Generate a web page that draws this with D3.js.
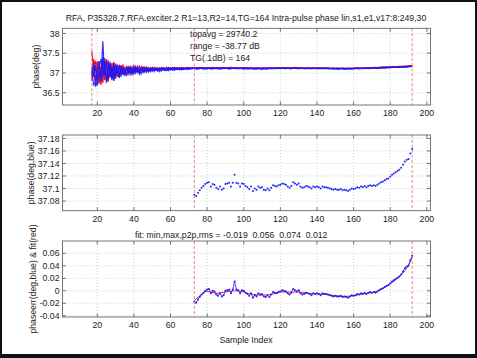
<!DOCTYPE html>
<html>
<head>
<meta charset="utf-8">
<title>Intra-pulse phase</title>
<script src="https://d3js.org/d3.v7.min.js"></script>
<style>
    body { margin: 0; background: #fff; }
    svg { display: block; font-family: "Liberation Sans", Arial, sans-serif; }
    .tick-label { font-size: 8.7px; fill: #222; }
</style>
</head>
<body>
<script>
// ---- data ----
const titleText = "RFA, P35328.7.RFA.exciter.2 R1=13,R2=14,TG=164 Intra-pulse phase lin,s1,e1,v17:8:249,30";
const notes = ["topavg = 29740.2", "range = -38.77 dB", "TG(.1dB) = 164"];
const fitTitle = "fit: min,max,p2p,rms = -0.019  0.056  0.074  0.012";
const xTicks = [20, 40, 60, 80, 100, 120, 140, 160, 180, 200];
const topTicks = [36.5, 37, 37.5, 38];
const midTicks = [37.08, 37.1, 37.12, 37.14, 37.16, 37.18];
const botTicks = [-0.04, -0.02, 0, 0.02, 0.04, 0.06];
const markers = [17, 73, 192];   // red dashed sample markers

// top panel traces: samples 17..192, hundredths of a degree above 37
const traceStart = 17;
const blueTraces = [
  [5,-30,-25,10,30,-15,40,20,-20,25,-10,15,-20,20,5,-12,18,-5,10,-8,
   14,-4,12,0,16,2,10,-2,14,4,12,3,13,5,11,6,12,4,13,7,
   11,6,12,8,13,7,12,9,13,8,12,10,13,9,12,11,13,10,12,11,
   13,11,12,10,13,11,12,11,13,10,12,12,11,13,12,11,13,12,11,12,
   12,11,12,13,11,12,11,12,10,12,11,12,11,10,12,11,12,11,12,12,
   11,12,12,13,12,12,11,12,11,12,13,12,12,11,12,11,12,12,11,12,
   12,11,12,12,11,12,11,12,12,11,11,12,11,11,12,11,11,12,11,11,
   11,12,11,12,12,11,12,12,11,12,12,13,12,12,13,12,13,13,13,13,
   14,13,14,14,14,15,14,15,15,15,16,15,16,16,17,17],
  [-10,25,-35,-20,15,35,-10,30,-25,10,28,-18,12,-15,22,-8,15,0,-6,16,
   0,12,-3,15,1,13,-1,12,3,14,2,11,5,13,4,12,6,13,5,12,
   7,13,6,12,8,14,8,11,9,13,9,12,10,13,10,12,11,13,10,12,
   11,12,10,12,11,13,10,12,11,12,10,11,12,11,12,10,11,12,11,12,
   11,12,11,11,12,10,11,12,11,11,10,11,12,11,10,11,11,12,11,11,
   12,11,12,11,12,11,12,12,11,11,12,12,11,12,11,12,11,11,12,11,
   11,12,11,11,12,11,12,11,11,12,11,11,10,11,11,10,11,11,10,11,
   11,11,10,11,11,12,11,11,12,11,12,12,11,12,12,12,13,12,13,13,
   13,14,13,14,14,14,15,14,15,15,15,16,15,16,16,17],
  [15,-10,20,-32,5,-22,80,-5,35,-18,20,-12,25,-5,8,18,-10,14,-2,12,
   4,16,-2,10,6,15,-3,11,2,13,6,10,3,12,7,11,5,10,8,13,
   6,11,9,12,7,11,10,13,8,12,10,11,9,12,11,13,11,12,10,13,
   12,10,12,11,12,10,13,11,12,11,12,11,13,12,11,12,11,13,12,11,
   11,12,12,10,11,12,11,11,12,10,11,12,10,11,12,11,10,12,11,12,
   12,12,11,12,12,13,11,12,12,11,12,13,12,11,12,12,11,12,11,12,
   11,12,11,12,11,11,12,11,12,11,11,11,12,11,10,11,11,11,10,11,
   10,11,11,11,12,11,11,12,12,11,12,11,12,13,12,12,12,13,13,14,
   13,14,14,13,15,14,15,15,14,16,15,16,16,17,16,17]
];
const redTraces = [
  [55,10,-20,30,-28,18,-12,38,5,-22,22,-15,28,-8,15,-12,20,2,14,-6,
   18,2,15,-2,14,4,17,6,13,2,15,7,12,6,14,8,13,7,14,9,
   12,8,14,10,13,9,14,11,12,10,14,11,13,12,14,12,13,11,14,12,
   13,12,14,12,13,12,14,13,12,13,14,12,13,13,12,14,13,12,13,13,
   13,12,13,13,12,13,12,13,12,12,13,12,12,13,12,12,13,12,13,12,
   13,13,12,13,13,12,13,13,12,13,13,12,13,12,13,13,12,13,12,13,
   12,13,12,13,12,12,13,12,12,13,12,12,12,11,12,12,12,11,12,12,
   12,12,11,12,12,13,12,12,13,12,13,13,12,13,13,13,14,13,14,14,
   14,15,14,15,15,15,16,15,16,16,17,16,17,17,18,18],
  [-20,35,15,-15,25,-30,30,-18,20,32,-12,25,-18,10,-10,20,-2,16,-4,18,
   -2,14,1,18,0,12,5,16,3,12,9,14,4,11,8,14,6,12,9,13,
   8,14,9,12,11,14,9,13,11,14,10,13,12,14,11,13,12,14,12,13,
   12,14,12,13,13,12,14,12,13,12,13,14,12,13,12,13,14,13,12,13,
   12,13,13,12,13,12,12,13,11,12,13,12,12,11,12,13,12,12,13,12,
   12,13,13,12,13,13,12,13,12,13,12,13,14,13,12,13,12,12,13,12,
   13,12,12,13,12,13,12,12,13,12,12,11,12,12,11,12,12,12,11,12,
   12,11,12,12,13,12,13,12,12,13,13,12,13,13,14,13,13,14,14,14,
   15,14,15,15,16,15,16,16,16,17,16,17,17,18,18,19],
  [8,-5,28,20,-22,12,-25,15,28,-10,15,22,-8,24,2,-5,12,20,0,8,
   15,6,10,14,3,16,2,10,15,5,11,13,6,14,9,10,12,7,12,10,
   13,9,11,13,10,12,13,10,12,13,11,12,14,12,13,11,13,12,13,14,
   12,13,13,12,14,13,12,13,13,12,13,12,14,12,13,13,12,13,12,14,
   13,12,12,13,12,13,13,12,12,13,12,12,12,13,12,11,12,13,12,12,
   13,12,13,13,12,13,12,13,13,12,13,14,13,12,12,13,12,13,12,12,
   12,13,12,12,13,12,12,13,12,12,12,12,11,12,12,11,12,12,12,11,
   12,12,12,11,12,12,13,12,13,12,13,13,13,12,13,14,13,14,14,15,
   14,15,15,15,16,15,16,16,17,16,17,17,17,18,18,18]
];

// middle and bottom panels: samples 73..192
const fitStart = 73;
const phaseBlue = [
  37.090,37.088,37.093,37.097,37.101,37.104,37.107,37.109,37.110,37.103,
  37.107,37.106,37.101,37.099,37.103,37.098,37.100,37.107,37.108,37.109,
  37.103,37.109,37.122,37.109,37.108,37.103,37.108,37.107,37.104,37.102,
  37.099,37.103,37.096,37.100,37.098,37.103,37.101,37.102,37.098,37.097,
  37.100,37.097,37.101,37.105,37.104,37.103,37.105,37.106,37.108,37.107,
  37.106,37.103,37.101,37.104,37.110,37.108,37.106,37.108,37.103,37.101,
  37.102,37.104,37.103,37.102,37.100,37.103,37.102,37.103,37.102,37.100,
  37.103,37.102,37.102,37.101,37.100,37.099,37.098,37.099,37.098,37.098,
  37.099,37.097,37.098,37.097,37.096,37.098,37.100,37.099,37.100,37.102,
  37.101,37.103,37.102,37.104,37.102,37.104,37.105,37.104,37.105,37.104,
  37.106,37.108,37.110,37.111,37.113,37.115,37.116,37.119,37.122,37.124,
  37.126,37.128,37.130,37.133,37.138,37.143,37.146,37.147,37.156,37.163
];
const phaseErr = [
  -0.017,-0.019,-0.014,-0.010,-0.006,-0.003,0.000,0.002,0.003,-0.004,
  0.000,-0.001,-0.006,-0.008,-0.004,-0.009,-0.007,0.000,0.001,0.002,
  -0.004,0.002,0.015,0.002,0.001,-0.004,0.001,0.000,-0.003,-0.005,
  -0.008,-0.004,-0.011,-0.007,-0.009,-0.004,-0.006,-0.005,-0.009,-0.010,
  -0.007,-0.010,-0.006,-0.002,-0.003,-0.004,-0.002,-0.001,0.001,0.000,
  -0.001,-0.004,-0.006,-0.003,0.003,0.001,-0.001,0.001,-0.004,-0.006,
  -0.005,-0.003,-0.004,-0.005,-0.007,-0.004,-0.005,-0.004,-0.005,-0.007,
  -0.004,-0.005,-0.005,-0.006,-0.007,-0.008,-0.009,-0.008,-0.009,-0.009,
  -0.008,-0.010,-0.009,-0.010,-0.011,-0.009,-0.007,-0.008,-0.007,-0.005,
  -0.006,-0.004,-0.005,-0.003,-0.005,-0.003,-0.002,-0.003,-0.002,-0.003,
  -0.001,0.001,0.003,0.004,0.006,0.008,0.009,0.012,0.015,0.017,
  0.019,0.021,0.023,0.026,0.031,0.036,0.039,0.040,0.049,0.056
];
const fitSamples = [73,76,80,85,90,95,100,105,110,115,120,125,130,135,140,145,150,155,160,165,170,175,180,185,190,192];
const fitValues = [-0.016,-0.008,-0.001,-0.004,-0.002,0.000,-0.002,-0.006,-0.007,-0.006,-0.002,-0.002,-0.002,-0.004,-0.005,-0.006,-0.008,-0.009,-0.008,-0.005,-0.003,0.002,0.011,0.023,0.041,0.054];

// ---- layout ----
const W = 477, H = 358;
const svg = d3.select("body").append("svg").attr("width", W).attr("height", H);

// dark frame around the figure
svg.append("rect").attr("width", W).attr("height", H).attr("fill", "#111");
svg.append("rect").attr("x", 2).attr("y", 2).attr("width", W - 4).attr("height", H - 6).attr("fill", "#fff");

const x = d3.scaleLinear().domain([1, 202]).range([62.5, 430.5]);

const panels = [
  { top: 28.3, bottom: 105, domain: [36.19, 38.13], ticks: topTicks, fmt: d => String(d), label: "phase(deg)", labelX: 36 },
  { top: 135, bottom: 210.7, domain: [37.0645, 37.1855], ticks: midTicks, fmt: d => String(+d.toFixed(2)), label: "phase(deg,blue)", labelX: 31 },
  { top: 241, bottom: 317, domain: [-0.042, 0.0797], ticks: botTicks, fmt: d => String(+d.toFixed(2)), label: "phaseerr(deg,blue) & fit(red)", labelX: 33 }
];

panels.forEach(p => {
  p.y = d3.scaleLinear().domain(p.domain).range([p.bottom, p.top]);
  const g = svg.append("g");
  p.g = g;
  g.append("rect").attr("x", x.range()[0]).attr("y", p.top)
    .attr("width", x.range()[1] - x.range()[0]).attr("height", p.bottom - p.top).attr("fill", "#fff");

  // dotted grid
  g.selectAll(".vg").data(xTicks).enter().append("line")
    .attr("x1", d => x(d)).attr("x2", d => x(d)).attr("y1", p.top).attr("y2", p.bottom)
    .attr("stroke", "#bdbdbd").attr("stroke-width", 0.7).attr("stroke-dasharray", "1,2");
  g.selectAll(".hg").data(p.ticks).enter().append("line")
    .attr("x1", x.range()[0]).attr("x2", x.range()[1]).attr("y1", d => p.y(d)).attr("y2", d => p.y(d))
    .attr("stroke", "#bdbdbd").attr("stroke-width", 0.7).attr("stroke-dasharray", "1,2");
});

// ---- top panel: overlaid pulses ----
const topP = panels[0];
const traceLine = d3.line().x((d, i) => x(traceStart + i)).y(d => topP.y(37 + d / 100));
redTraces.forEach(t => topP.g.append("path").attr("d", traceLine(t))
  .attr("fill", "none").attr("stroke", "#ff1010").attr("stroke-width", 1.2));
blueTraces.forEach(t => topP.g.append("path").attr("d", traceLine(t))
  .attr("fill", "none").attr("stroke", "#1a1aff").attr("stroke-width", 1.2).attr("stroke-opacity", 0.9));

// ---- middle panel: phase dots ----
const midP = panels[1];
midP.g.selectAll(".pt").data(phaseBlue).enter().append("circle")
  .attr("cx", (d, i) => x(fitStart + i)).attr("cy", d => midP.y(d)).attr("r", 1.0).attr("fill", "#2222ff");

// ---- bottom panel: residual and fit ----
const botP = panels[2];
botP.g.append("path")
  .attr("d", d3.line().curve(d3.curveMonotoneX).x((d, i) => x(fitSamples[i])).y(d => botP.y(d))(fitValues))
  .attr("fill", "none").attr("stroke", "#ff2020").attr("stroke-width", 1);
botP.g.append("path")
  .attr("d", d3.line().x((d, i) => x(fitStart + i)).y(d => botP.y(d))(phaseErr))
  .attr("fill", "none").attr("stroke", "#2020ff").attr("stroke-width", 0.8);
botP.g.selectAll(".pt").data(phaseErr).enter().append("circle")
  .attr("cx", (d, i) => x(fitStart + i)).attr("cy", d => botP.y(d)).attr("r", 1.0).attr("fill", "#2222ff");

// ---- markers, box, ticks, labels ----
panels.forEach((p, k) => {
  const g = p.g;
  const ms = k === 0 ? markers : markers.slice(1);
  g.selectAll(".mk").data(ms).enter().append("line")
    .attr("x1", d => x(d)).attr("x2", d => x(d)).attr("y1", p.top).attr("y2", p.bottom)
    .attr("stroke", "#e06a6a").attr("stroke-width", 0.8).attr("stroke-dasharray", "3,2");

  const x0 = x.range()[0], x1 = x.range()[1];
  g.append("rect").attr("x", x0).attr("y", p.top).attr("width", x1 - x0).attr("height", p.bottom - p.top)
    .attr("fill", "none").attr("stroke", "#555").attr("stroke-width", 0.8);

  const tl = 3.5;
  xTicks.forEach(t => {
    g.append("line").attr("x1", x(t)).attr("x2", x(t)).attr("y1", p.bottom).attr("y2", p.bottom - tl).attr("stroke", "#555").attr("stroke-width", 0.8);
    g.append("line").attr("x1", x(t)).attr("x2", x(t)).attr("y1", p.top).attr("y2", p.top + tl).attr("stroke", "#555").attr("stroke-width", 0.8);
  });
  p.ticks.forEach(t => {
    g.append("line").attr("x1", x0).attr("x2", x0 + tl).attr("y1", p.y(t)).attr("y2", p.y(t)).attr("stroke", "#555").attr("stroke-width", 0.8);
    g.append("line").attr("x1", x1).attr("x2", x1 - tl).attr("y1", p.y(t)).attr("y2", p.y(t)).attr("stroke", "#555").attr("stroke-width", 0.8);
  });

  g.selectAll(".xl").data(xTicks).enter().append("text").attr("class", "tick-label")
    .attr("x", d => x(d)).attr("y", p.bottom + 11).attr("text-anchor", "middle").text(d => d);
  g.selectAll(".yl").data(p.ticks).enter().append("text").attr("class", "tick-label")
    .attr("x", x0 - 3).attr("y", d => p.y(d) + 3.1).attr("text-anchor", "end").text(p.fmt);

  g.append("text").attr("class", "tick-label")
    .attr("transform", `translate(${p.labelX},${(p.top + p.bottom) / 2}) rotate(-90)`)
    .attr("text-anchor", "middle").attr("dy", "0.35em").text(p.label);
});

// titles and notes
svg.append("text").attr("class", "tick-label").attr("x", 246).attr("y", 20.5)
  .attr("text-anchor", "middle").text(titleText);
svg.selectAll(".note").data(notes).enter().append("text").attr("class", "tick-label")
  .attr("x", 190).attr("y", (d, i) => 36.5 + i * 12).text(d => d);
svg.append("text").attr("class", "tick-label").attr("x", 135).attr("y", 237.5)
  .style("white-space", "pre").text(fitTitle);
svg.append("text").attr("class", "tick-label").attr("x", 246).attr("y", 342.5)
  .attr("text-anchor", "middle").text("Sample Index");
</script>
</body>
</html>
